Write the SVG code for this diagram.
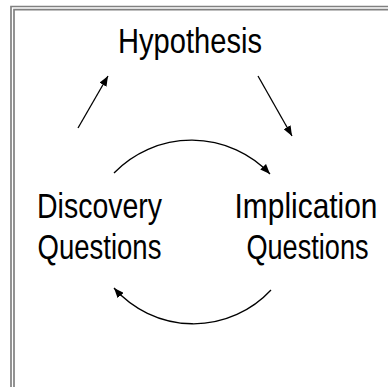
<svg xmlns="http://www.w3.org/2000/svg" width="388" height="387" viewBox="0 0 388 387">
<defs>
<style>
.lbl{font-family:"Liberation Sans",Arial,sans-serif;font-size:35px;fill:#000;text-anchor:middle}
.cn{fill:none;stroke:#000;stroke-width:1.3}
.frame{stroke:#808080;stroke-width:1.7;fill:none}
</style>
<marker id="ah" viewBox="0 0 10 8" refX="10" refY="4" markerWidth="10" markerHeight="8" markerUnits="userSpaceOnUse" orient="auto">
<path d="M0,0 L10,4 L0,8 z" fill="#000"/>
</marker>
</defs>
<rect width="388" height="387" fill="#fff"/>
<g id="frame">
<path class="frame" d="M11,387 V6.5 H388"/>
<path class="frame" d="M14,387 V9.7 H388"/>
</g>
<g id="hypothesis"><text class="lbl" transform="translate(190,53) scale(0.82,1)" textLength="175.6" lengthAdjust="spacingAndGlyphs">Hypothesis</text></g>
<g id="discovery">
<text class="lbl" transform="translate(99.5,218) scale(0.82,1)" textLength="152.4" lengthAdjust="spacingAndGlyphs">Discovery</text>
<text class="lbl" transform="translate(99.5,259) scale(0.82,1)" textLength="151" lengthAdjust="spacingAndGlyphs">Questions</text>
</g>
<g id="implication">
<text class="lbl" transform="translate(306,218) scale(0.82,1)" textLength="174.4" lengthAdjust="spacingAndGlyphs">Implication</text>
<text class="lbl" transform="translate(307.5,259) scale(0.82,1)" textLength="149" lengthAdjust="spacingAndGlyphs">Questions</text>
</g>
<g id="connectors">
<line class="cn" x1="78" y1="128" x2="108" y2="76" marker-end="url(#ah)"/>
<line class="cn" x1="258" y1="76" x2="292" y2="136" marker-end="url(#ah)"/>
<path class="cn" d="M114,173 A108,108 0 0 1 270,174" marker-end="url(#ah)"/>
<path class="cn" d="M271,290 A106,106 0 0 1 114,288" marker-end="url(#ah)"/>
</g>
</svg>
